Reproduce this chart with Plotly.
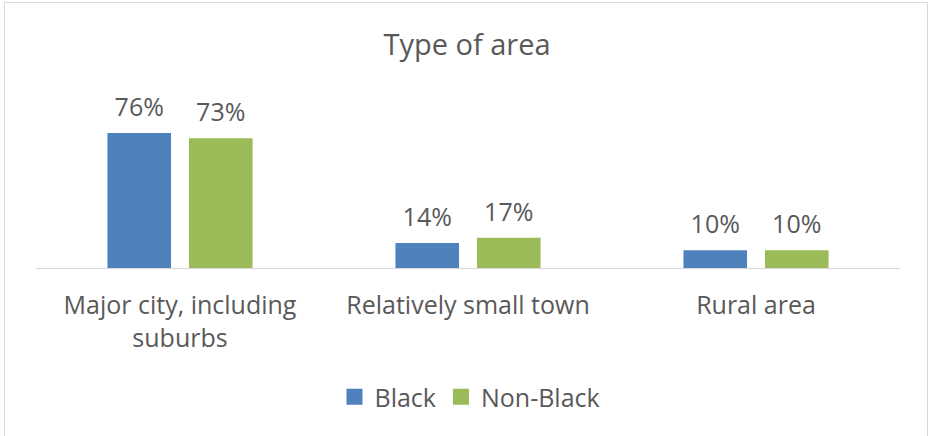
import plotly.graph_objects as go

categories = ["Major city, including<br>suburbs", "Relatively small town", "Rural area"]
black_vals = [76, 14, 10]
nonblack_vals = [73, 17, 10]
series_names = ["Black", "Non-Black"]
series_colors = ["#4F81BD", "#9BBB59"]
title_text = "Type of area"

TXT = "#595959"
FONT = "Open Sans"

fig = go.Figure()
for i, (name, vals, col) in enumerate(zip(series_names, [black_vals, nonblack_vals], series_colors)):
    grp = str(i)
    fig.add_trace(go.Bar(
        x=categories, y=vals, name=name, offsetgroup=grp, showlegend=False,
        marker=dict(color=col, line=dict(width=0)), hoverinfo="skip",
    ))
    # value labels placed above the bars
    fig.add_trace(go.Scatter(
        x=categories, y=vals, mode="markers+text", offsetgroup=grp, showlegend=False,
        text=[f"{v}%" for v in vals], textposition="top center",
        textfont=dict(size=25, color=TXT, family=FONT),
        marker=dict(size=16, color="rgba(0,0,0,0)"), cliponaxis=False, hoverinfo="skip",
    ))
    # legend entry
    fig.add_trace(go.Scatter(
        x=[None], y=[None], mode="markers", name=name,
        marker=dict(symbol="square", size=16, color=col),
    ))

L, R, T, B = 36, 29, 108, 168
W, H = 929, 436
pw, ph = W - L - R, H - T - B

def px_to_paper_x(px):
    return (px - L) / pw

def px_to_paper_y(py):
    return (H - B - py) / ph

fig.update_layout(
    width=W, height=H,
    margin=dict(l=L, r=R, t=T, b=B),
    paper_bgcolor="white", plot_bgcolor="white",
    barmode="group", bargap=0.434, bargroupgap=0.22,
    scattermode="group", scattergap=0.434,
    font=dict(family=FONT, color=TXT, size=25),
    title=dict(text=title_text, x=467 / W, xanchor="center",
               y=1 - 45 / H, yanchor="middle", font=dict(size=29, color=TXT, family=FONT)),
    showlegend=True,
    legend=dict(orientation="h", x=px_to_paper_x(470), xanchor="center",
                y=px_to_paper_y(397), yanchor="middle",
                font=dict(size=25, color=TXT, family=FONT), itemwidth=30),
    xaxis=dict(showline=True, linecolor="#D9D9D9", linewidth=1, showgrid=False,
               ticks="", tickfont=dict(size=25, color=TXT, family=FONT),
               ticklabelstandoff=15, fixedrange=True),
    yaxis=dict(range=[0, 90], visible=False, showgrid=False, zeroline=False, fixedrange=True),
)

fig.add_shape(type="rect", xref="paper", yref="paper",
              x0=px_to_paper_x(4.5), x1=px_to_paper_x(927.5),
              y0=px_to_paper_y(445), y1=px_to_paper_y(2.5),
              line=dict(color="#D9D9D9", width=1), fillcolor="rgba(0,0,0,0)", layer="below")

fig.write_html("out.html", config={"displayModeBar": False},
               post_script="document.body.style.margin='0px';document.body.style.padding='0px';")
